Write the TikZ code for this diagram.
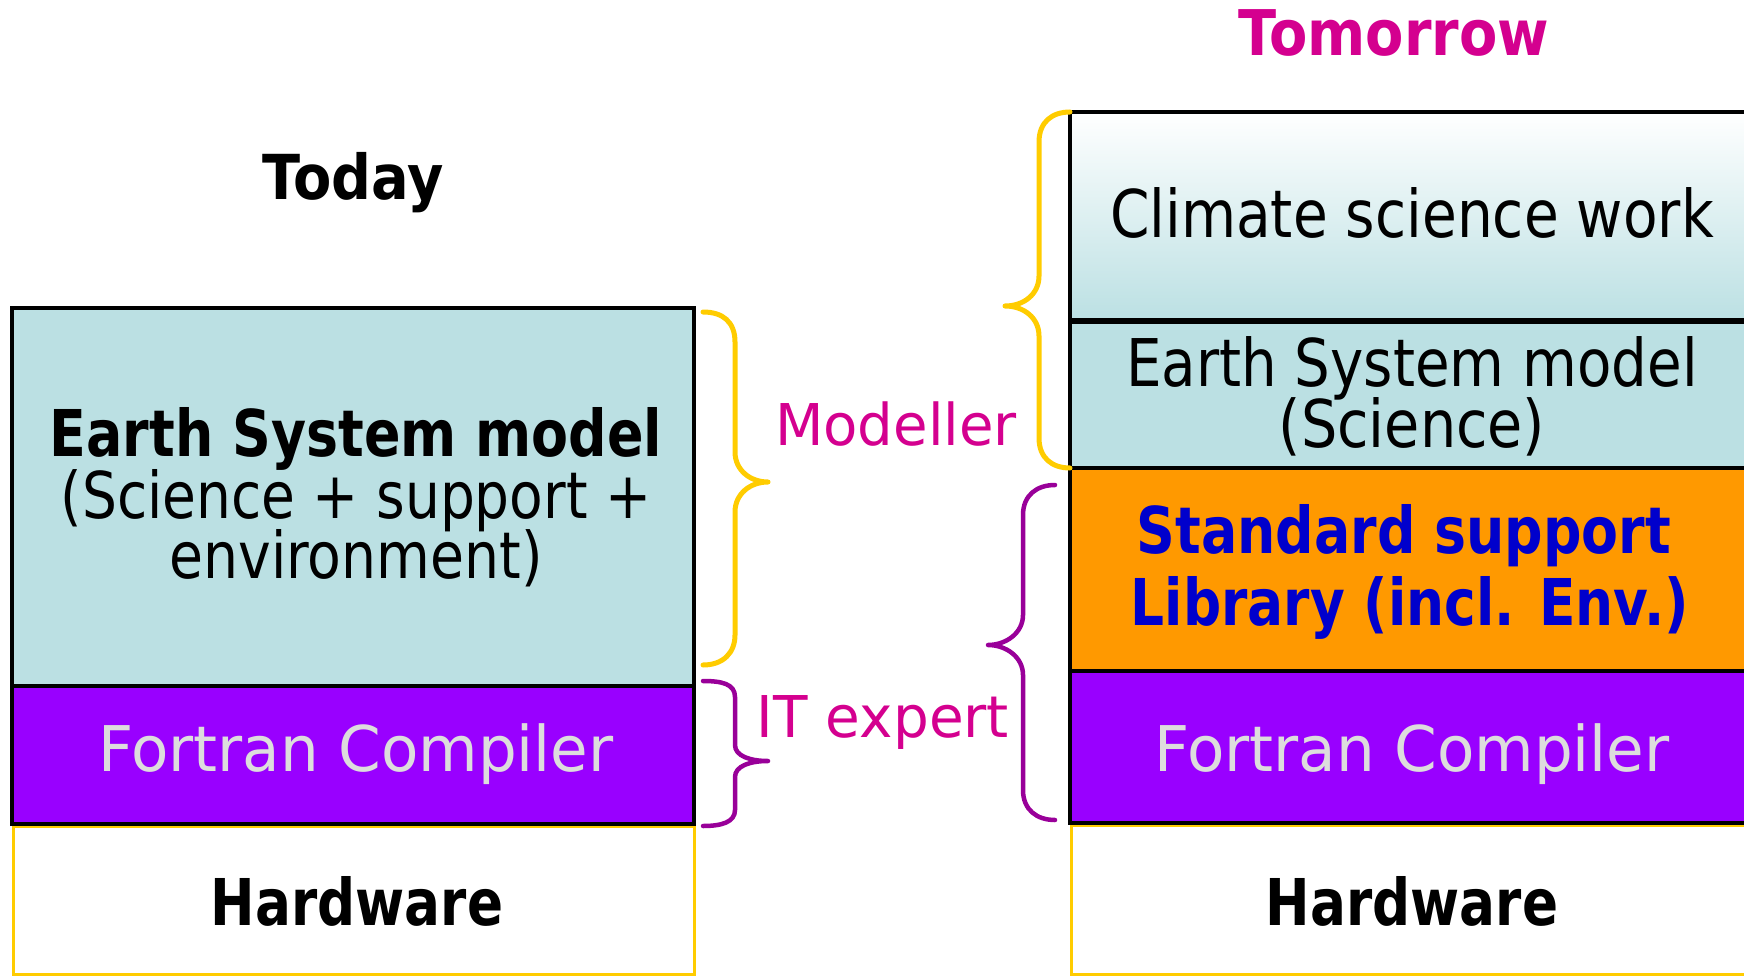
\documentclass[tikz,border=0pt]{standalone}
\usepackage{fontspec}
\setmainfont{DejaVu Sans}
\usepackage{graphicx}
\definecolor{boxblue}{HTML}{BBE0E3}
\definecolor{fpurple}{HTML}{9900FF}
\definecolor{sorange}{HTML}{FF9900}
\definecolor{ycol}{HTML}{FFCC00}
\definecolor{bpurple}{HTML}{990099}
\definecolor{magtext}{HTML}{D4008F}
\definecolor{bluetext}{HTML}{0000CC}
\definecolor{graytext}{HTML}{DDDDDD}
\newcommand\tx[3]{\fontsize{#1}{#1}\selectfont\scalebox{#2}[1]{#3}}
\begin{document}
\begin{tikzpicture}[x=1pt,y=-1pt,
  lbl/.style={anchor=base,inner sep=0pt},
  layer/.style={draw=black,line width=4pt},
  hw/.style={draw=ycol,line width=3pt},
  ybrace/.style={draw=ycol,line width=5pt,line cap=round,line join=round},
  pbrace/.style={draw=bpurple,line width=4.5pt,line cap=round,line join=round}]
\useasboundingbox (0,0) rectangle (1744,976);
\clip (0,0) rectangle (1744,976);
% ---------- left stack ----------
\path[hw] (13,826) rectangle (694,974);
\path[layer,fill=boxblue] (12,308) rectangle (694,686);
\path[layer,fill=fpurple] (12,686) rectangle (694,824);
% ---------- right stack ----------
\path[hw] (1071,825) rectangle (1760,974);
\shadedraw[draw=black,line width=4pt,top color=white,bottom color=boxblue] (1070,112) rectangle (1756,321);
\path[layer,fill=boxblue] (1070,321) rectangle (1756,468);
\path[layer,fill=sorange] (1070,468) rectangle (1756,671);
\path[layer,fill=fpurple] (1070,671) rectangle (1756,823);
\draw[line width=6pt] (1070,321) -- (1756,321);
% ---------- braces ----------
\path[ybrace] (703,312) .. controls (723,312) and (735,322) .. (735,342) -- (735,452)
  .. controls (735,470) and (750,482) .. (768,482)
  .. controls (750,482) and (735,494) .. (735,512) -- (735,635)
  .. controls (735,653) and (723,665) .. (703,665);
\path[pbrace] (703,681) .. controls (722,681) and (735,684) .. (735,697) -- (735,745)
  .. controls (735,756) and (750,761) .. (768,761)
  .. controls (750,761) and (735,766) .. (735,777) -- (735,810)
  .. controls (735,822) and (722,826) .. (703,826);
\path[ybrace] (1070,112) .. controls (1052,112) and (1039,122) .. (1039,142) -- (1039,276)
  .. controls (1039,294) and (1024,306) .. (1005,306)
  .. controls (1024,306) and (1039,318) .. (1039,336) -- (1039,438)
  .. controls (1039,458) and (1052,468) .. (1070,468);
\path[pbrace] (1055,485) .. controls (1037,485) and (1023,495) .. (1023,515) -- (1023,615)
  .. controls (1023,633) and (1006,645) .. (988,645)
  .. controls (1006,645) and (1023,657) .. (1023,675) -- (1023,790)
  .. controls (1023,810) and (1037,820) .. (1055,820);
% ---------- titles ----------
\node[lbl] (today) at (353,200) {\tx{62}{0.90}{\textbf{Today}}};
\node[lbl,text=magtext] (tomorrow) at (1394,56) {\tx{63}{0.886}{\textbf{Tomorrow}}};
\node[lbl,text=magtext] (modeller) at (896,445) {\tx{57.6}{0.975}{Modeller}};
\node[lbl,text=magtext] (itexpert) at (883,737) {\tx{57.6}{0.98}{IT expert}};
% ---------- left texts ----------
\node[lbl] (lesm1) at (356,456) {\tx{64.5}{0.835}{\textbf{Earth System model}}};
\node[lbl] (lesm2) at (356,518) {\tx{64.5}{0.853}{(Science + support +}};
\node[lbl] (lesm3) at (356,578) {\tx{64.5}{0.856}{environment)}};
\node[lbl,text=graytext] (lfort) at (356,771) {\tx{63}{0.97}{Fortran Compiler}};
\node[lbl] (lhw) at (357,925) {\tx{64.5}{0.825}{\textbf{Hardware}}};
% ---------- right texts ----------
\node[lbl] (climate) at (1412,237) {\tx{65.8}{0.86}{Climate science work}};
\node[lbl] (resm1) at (1412,386) {\tx{65.8}{0.855}{Earth System model}};
\node[lbl] (resm2) at (1412,447) {\tx{65.8}{0.87}{(Science)}};
\node[lbl,text=bluetext] (std1) at (1404,553) {\tx{64.5}{0.834}{\textbf{Standard support}}};
\node[lbl,text=bluetext] (std2) at (1410,625) {\tx{64.5}{0.828}{\textbf{Library (incl. Env.)}}};
\node[lbl,text=graytext] (rfort) at (1412,771) {\tx{63}{0.97}{Fortran Compiler}};
\node[lbl] (rhw) at (1412,925) {\tx{64.5}{0.825}{\textbf{Hardware}}};
\end{tikzpicture}
\end{document}
